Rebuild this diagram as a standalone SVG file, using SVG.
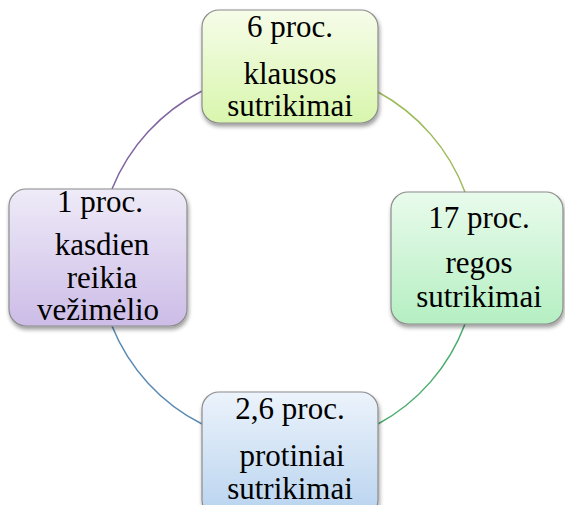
<svg xmlns="http://www.w3.org/2000/svg" width="565" height="505" viewBox="0 0 565 505">
<defs>
<linearGradient id="gTop" x1="0" y1="0" x2="0" y2="1"><stop offset="0" stop-color="#f6fce9"/><stop offset="1" stop-color="#d8f6ad"/></linearGradient>
<linearGradient id="gRight" x1="0" y1="0" x2="0" y2="1"><stop offset="0" stop-color="#e9fbec"/><stop offset="1" stop-color="#b5efc2"/></linearGradient>
<linearGradient id="gBottom" x1="0" y1="0" x2="0" y2="1"><stop offset="0" stop-color="#ecf3fb"/><stop offset="1" stop-color="#b8d3ef"/></linearGradient>
<linearGradient id="gLeft" x1="0" y1="0" x2="0" y2="1"><stop offset="0" stop-color="#efebf8"/><stop offset="1" stop-color="#ccbce7"/></linearGradient>
<filter id="sh" x="-10%" y="-10%" width="125%" height="130%"><feGaussianBlur in="SourceAlpha" stdDeviation="2"/><feOffset dx="1" dy="3" result="b"/><feComponentTransfer><feFuncA type="linear" slope="0.4"/></feComponentTransfer><feMerge><feMergeNode/><feMergeNode in="SourceGraphic"/></feMerge></filter>
</defs>
<style>
.box{stroke:#8c8c8c;stroke-width:1.2;filter:url(#sh)}
text{font-family:'Liberation Serif','Times New Roman',serif;font-size:31px;fill:#000;text-anchor:middle}
.arc{fill:none;stroke-width:1.5}
</style>
<g id="connectors">
<path class="arc" stroke="#8064a2" d="M112,189 A189,189 0 0 1 202,91"/>
<path class="arc" stroke="#9bbb59" d="M378,92 A189,189 0 0 1 465,192"/>
<path class="arc" stroke="#4bac6e" d="M465,324 A189,189 0 0 1 378,424"/>
<path class="arc" stroke="#5b8bb5" d="M202,424 A189,189 0 0 1 112,326"/>
</g>
<g id="node-top">
<rect class="box" x="202" y="10" width="176" height="113" rx="17" fill="url(#gTop)"/>
<text x="290" y="37">6 proc.</text>
<text x="290" y="84">klausos</text>
<text x="290" y="116">sutrikimai</text>
</g>
<g id="node-right">
<rect class="box" x="391" y="192" width="172" height="132" rx="17" fill="url(#gRight)"/>
<text x="479" y="228">17 proc.</text>
<text x="479" y="273">regos</text>
<text x="479" y="307">sutrikimai</text>
</g>
<g id="node-bottom">
<rect class="box" x="202" y="392" width="176" height="125" rx="17" fill="url(#gBottom)"/>
<text x="290" y="419">2,6 proc.</text>
<text x="292" y="466">protiniai</text>
<text x="290" y="499">sutrikimai</text>
</g>
<g id="node-left">
<rect class="box" x="9" y="189" width="178" height="137" rx="17" fill="url(#gLeft)"/>
<text x="100" y="212">1 proc.</text>
<text x="102" y="255">kasdien</text>
<text x="102" y="288">reikia</text>
<text x="98" y="320">vežimėlio</text>
</g>
</svg>
